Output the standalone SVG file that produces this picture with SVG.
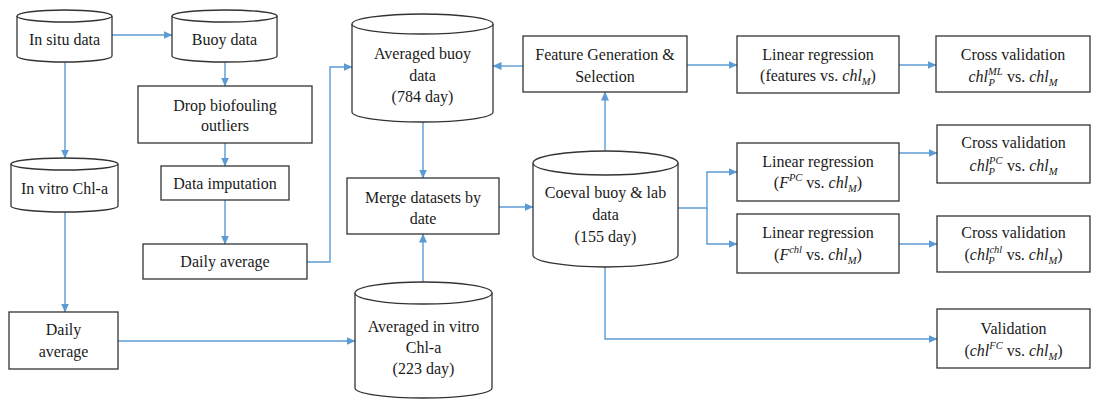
<svg xmlns="http://www.w3.org/2000/svg" width="1094" height="400" viewBox="0 0 1094 400" font-family="'Liberation Serif', 'Times New Roman', Times, serif">
<style>
.box{fill:#fff;stroke:#333;stroke-width:1.3}
.cyl{fill:#fff;stroke:#333;stroke-width:1.3}
.t{font-size:16px;fill:#1a1a1a;text-anchor:middle}
.i{font-style:italic}
.s{font-size:10.5px;font-style:italic}
.c{fill:none;stroke:#5B9BD5;stroke-width:1.4}
</style>
<defs>
<marker id="ah" markerWidth="9" markerHeight="8" refX="8.5" refY="4" orient="auto" markerUnits="userSpaceOnUse">
<path d="M0,0 L9,4 L0,8 Z" fill="#5B9BD5"/>
</marker>
</defs>
<rect width="1094" height="400" fill="#fff"/>

<g id="connectors">
<path class="c" d="M112,35 H172" marker-end="url(#ah)"/>
<path class="c" d="M225,62 V86" marker-end="url(#ah)"/>
<path class="c" d="M65,62 V158" marker-end="url(#ah)"/>
<path class="c" d="M225,143 V166" marker-end="url(#ah)"/>
<path class="c" d="M225,200 V244" marker-end="url(#ah)"/>
<path class="c" d="M307,262 H330 V67 H352" marker-end="url(#ah)"/>
<path class="c" d="M65,212 V312" marker-end="url(#ah)"/>
<path class="c" d="M118,341 H355" marker-end="url(#ah)"/>
<path class="c" d="M423,122 V178" marker-end="url(#ah)"/>
<path class="c" d="M423,282 V234" marker-end="url(#ah)"/>
<path class="c" d="M499,207 H533" marker-end="url(#ah)"/>
<path class="c" d="M605,151 V92" marker-end="url(#ah)"/>
<path class="c" d="M523,66 H493" marker-end="url(#ah)"/>
<path class="c" d="M687,65 H737" marker-end="url(#ah)"/>
<path class="c" d="M899,65 H936" marker-end="url(#ah)"/>
<path class="c" d="M678,208 H707 V172 H737" marker-end="url(#ah)"/>
<path class="c" d="M707,208 V244 H737" marker-end="url(#ah)"/>
<path class="c" d="M899,153 H937" marker-end="url(#ah)"/>
<path class="c" d="M899,244 H937" marker-end="url(#ah)"/>
<path class="c" d="M605,267 V339 H937" marker-end="url(#ah)"/>
</g>

<g id="in-situ">
<path class="cyl" d="M17,16 V56 A47.5,6 0 0 0 112,56 V16"/>
<ellipse class="cyl" cx="64.5" cy="16" rx="47.5" ry="6"/>
<text class="t" x="64.5" y="45">In situ data</text>
</g>

<g id="buoy">
<path class="cyl" d="M172,16 V56 A52.5,6 0 0 0 277,56 V16"/>
<ellipse class="cyl" cx="224.5" cy="16" rx="52.5" ry="6"/>
<text class="t" x="224.5" y="45">Buoy data</text>
</g>

<g id="drop">
<rect class="box" x="138" y="86" width="174" height="57"/>
<text class="t" x="225" y="111">Drop biofouling</text>
<text class="t" x="225" y="131">outliers</text>
</g>

<g id="imputation">
<rect class="box" x="161" y="166" width="128" height="34"/>
<text class="t" x="225" y="189">Data imputation</text>
</g>

<g id="daily-buoy">
<rect class="box" x="143" y="244" width="164" height="35"/>
<text class="t" x="225" y="267">Daily average</text>
</g>

<g id="in-vitro">
<path class="cyl" d="M11,164 V206 A53.5,6 0 0 0 118,206 V164"/>
<ellipse class="cyl" cx="64.5" cy="164" rx="53.5" ry="6"/>
<text class="t" x="64.5" y="194">In vitro Chl-a</text>
</g>

<g id="daily-vitro">
<rect class="box" x="9" y="312" width="109" height="57"/>
<text class="t" x="63.5" y="335">Daily</text>
<text class="t" x="63.5" y="357">average</text>
</g>

<g id="avg-buoy">
<path class="cyl" d="M352,24 V112 A70.5,10 0 0 0 493,112 V24"/>
<ellipse class="cyl" cx="422.5" cy="24" rx="70.5" ry="10"/>
<text class="t" x="422.5" y="59">Averaged buoy</text>
<text class="t" x="422.5" y="81">data</text>
<text class="t" x="422.5" y="102">(784 day)</text>
</g>

<g id="merge">
<rect class="box" x="347" y="178" width="152" height="56"/>
<text class="t" x="423" y="203">Merge datasets by</text>
<text class="t" x="423" y="224">date</text>
</g>

<g id="avg-vitro">
<path class="cyl" d="M355,293 V388 A68.5,10 0 0 0 492,388 V293"/>
<ellipse class="cyl" cx="423.5" cy="293" rx="68.5" ry="11"/>
<text class="t" x="423.5" y="332">Averaged in vitro</text>
<text class="t" x="423.5" y="353">Chl-a</text>
<text class="t" x="423.5" y="374">(223 day)</text>
</g>

<g id="coeval">
<path class="cyl" d="M533,163 V255 A72.5,12 0 0 0 678,255 V163"/>
<ellipse class="cyl" cx="605.5" cy="163" rx="72.5" ry="12"/>
<text class="t" x="605.5" y="198">Coeval buoy &amp; lab</text>
<text class="t" x="605.5" y="220">data</text>
<text class="t" x="605.5" y="242">(155 day)</text>
</g>

<g id="feature">
<rect class="box" x="523" y="36" width="164" height="56"/>
<text class="t" x="605" y="60">Feature Generation &amp;</text>
<text class="t" x="605" y="82">Selection</text>
</g>

<g id="lr1">
<rect class="box" x="737" y="36" width="162" height="57"/>
<text class="t" x="818" y="60">Linear regression</text>
<text class="t" x="818" y="81">(features vs. <tspan class="i">chl</tspan><tspan class="s" dy="4">M</tspan><tspan dy="-4">)</tspan></text>
</g>

<g id="cv1">
<rect class="box" x="936" y="36" width="154" height="56"/>
<text class="t" x="1013" y="60">Cross validation</text>
<text class="t" x="1013" y="82"><tspan class="i">chl</tspan><tspan class="s" dy="-7">ML</tspan><tspan class="s" dx="-14" dy="11">P</tspan><tspan dx="8" dy="-4"> vs. </tspan><tspan class="i">chl</tspan><tspan class="s" dy="4">M</tspan></text>
</g>

<g id="lr2">
<rect class="box" x="737" y="143" width="162" height="58"/>
<text class="t" x="818" y="167">Linear regression</text>
<text class="t" x="818" y="188">(<tspan class="i">F</tspan><tspan class="s" dy="-7">PC</tspan><tspan dy="7"> vs. </tspan><tspan class="i">chl</tspan><tspan class="s" dy="4">M</tspan><tspan dy="-4">)</tspan></text>
</g>

<g id="cv2">
<rect class="box" x="937" y="125" width="153" height="58"/>
<text class="t" x="1013.5" y="148">Cross validation</text>
<text class="t" x="1013.5" y="171"><tspan class="i">chl</tspan><tspan class="s" dy="-7">PC</tspan><tspan class="s" dx="-14" dy="11">P</tspan><tspan dx="8" dy="-4"> vs. </tspan><tspan class="i">chl</tspan><tspan class="s" dy="4">M</tspan></text>
</g>

<g id="lr3">
<rect class="box" x="737" y="214" width="162" height="59"/>
<text class="t" x="818" y="238">Linear regression</text>
<text class="t" x="818" y="260">(<tspan class="i">F</tspan><tspan class="s" dy="-7">chl</tspan><tspan dy="7"> vs. </tspan><tspan class="i">chl</tspan><tspan class="s" dy="4">M</tspan><tspan dy="-4">)</tspan></text>
</g>

<g id="cv3">
<rect class="box" x="937" y="216" width="153" height="56"/>
<text class="t" x="1013.5" y="238">Cross validation</text>
<text class="t" x="1013.5" y="260">(<tspan class="i">chl</tspan><tspan class="s" dy="-7">chl</tspan><tspan class="s" dx="-14" dy="11">P</tspan><tspan dx="8" dy="-4"> vs. </tspan><tspan class="i">chl</tspan><tspan class="s" dy="4">M</tspan><tspan dy="-4">)</tspan></text>
</g>

<g id="validation">
<rect class="box" x="937" y="309" width="153" height="59"/>
<text class="t" x="1013.5" y="334">Validation</text>
<text class="t" x="1013.5" y="356">(<tspan class="i">chl</tspan><tspan class="s" dy="-7">FC</tspan><tspan dy="7"> vs. </tspan><tspan class="i">chl</tspan><tspan class="s" dy="4">M</tspan><tspan dy="-4">)</tspan></text>
</g>
</svg>
